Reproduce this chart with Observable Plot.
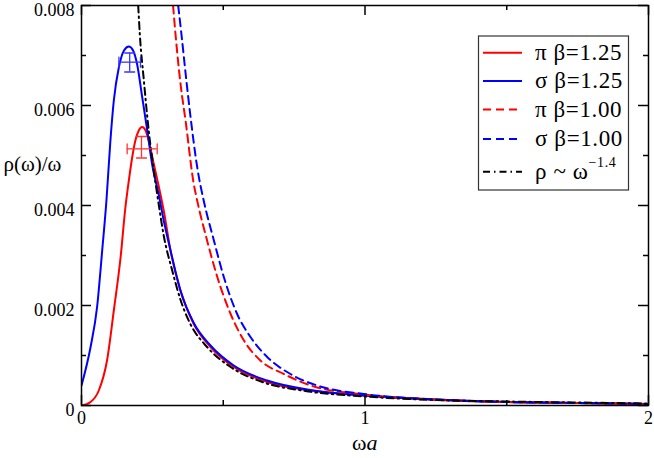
<!DOCTYPE html>
<html>
<head>
<meta charset="utf-8">
<script src="https://cdn.jsdelivr.net/npm/d3@7"></script>
<script src="https://cdn.jsdelivr.net/npm/@observablehq/plot@0.6"></script>
<style>
  html, body { margin: 0; padding: 0; background: #fff; }
  #chart { width: 654px; height: 458px; }
</style>
</head>
<body>
<div id="chart"></div>
<script>
// ---- data ----
const piB125_w = [0, 0.032, 0.061, 0.09, 0.114, 0.138, 0.155, 0.167, 0.179, 0.19, 0.202, 0.214, 0.226, 0.237, 0.255, 0.273, 0.29, 0.314, 0.349, 0.396, 0.455, 0.537, 0.655, 0.808, 1.0, 1.25, 1.5, 1.75, 2.0];
const piB125_v = [0, 0.00007, 0.0003, 0.0009, 0.0019, 0.00297, 0.00397, 0.0045, 0.00497, 0.0053, 0.0055, 0.00557, 0.0055, 0.0053, 0.00483, 0.00437, 0.0039, 0.0031, 0.0023, 0.00163, 0.00117, 0.00077, 0.00047, 0.0003, 0.0002, 0.00012, 0.00007, 0.00005, 0.00003];

const sigB125_w = [0, 0.032, 0.055, 0.073, 0.088, 0.102, 0.114, 0.132, 0.15, 0.167, 0.182, 0.196, 0.214, 0.232, 0.249, 0.273, 0.29, 0.314, 0.349, 0.396, 0.455, 0.537, 0.655, 0.808, 1.0, 1.25, 1.5, 1.75, 2.0];
const sigB125_v = [0.0004, 0.00117, 0.00197, 0.0031, 0.0041, 0.0053, 0.0061, 0.00677, 0.0071, 0.00718, 0.0071, 0.00683, 0.00617, 0.0055, 0.00483, 0.0042, 0.0037, 0.0031, 0.0023, 0.00165, 0.0012, 0.0008, 0.0005, 0.00031, 0.0002, 0.00012, 0.00007, 0.00005, 0.00003];

const piB100_w = [0.323, 0.332, 0.35, 0.367, 0.396, 0.408, 0.443, 0.479, 0.526, 0.573, 0.631, 0.714, 0.808, 0.996, 1.25, 1.5, 1.75, 2.0];
const piB100_v = [0.008, 0.0074, 0.0064, 0.0057, 0.00443, 0.0041, 0.0033, 0.00257, 0.00183, 0.0013, 0.0009, 0.00063, 0.0004, 0.00022, 0.00011, 0.00007, 0.00005, 0.00003];

const sigB100_w = [0.341, 0.353, 0.368, 0.384, 0.41, 0.431, 0.467, 0.502, 0.549, 0.596, 0.655, 0.737, 0.831, 0.996, 1.25, 1.5, 1.75, 2.0];
const sigB100_v = [0.008, 0.0074, 0.0066, 0.0058, 0.0047, 0.0041, 0.0033, 0.00257, 0.00183, 0.00137, 0.00097, 0.00063, 0.0004, 0.00023, 0.00012, 0.00007, 0.00005, 0.00003];

const power_w = [0.2, 0.206, 0.22, 0.237, 0.255, 0.273, 0.29, 0.32, 0.35, 0.384, 0.443, 0.526, 0.643, 0.79, 1.0, 1.25, 1.5, 1.75, 2.0];
const power_v = [0.008, 0.0074, 0.0065, 0.0055, 0.0047, 0.004, 0.0034, 0.0027, 0.0021, 0.00163, 0.00117, 0.00077, 0.00046, 0.00029, 0.00018, 0.00011, 0.00008, 0.00006, 0.00004];

// error-bar points: centre, x range, y range
const errSeries = ["sigma", "pi"];
const errX   = [0.170, 0.2116];
const errY   = [0.006867, 0.005133];
const errXlo = [0.132, 0.161];
const errXhi = [0.208, 0.267];
const errYlo = [0.00667, 0.00495];
const errYhi = [0.00705, 0.00538];
const errColors = ["#3535ff", "#ff3535"];

const xMajor = [0, 1, 2];
const xMinor = [0.5, 1.5];
const yMajor = [0, 0.002, 0.004, 0.006, 0.008];
const yMinor = [0.001, 0.003, 0.005, 0.007];

const legendLabels = ["π β=1.25", "σ β=1.25", "π β=1.00", "σ β=1.00", "ρ ~ ω"];
const legendColors = ["#ff0000", "#0000ff", "#ff0000", "#0000ff", "#000000"];
const legendDash   = [null, null, "8,5", "8,5", "7,4,1.5,4"];

// ---- build tables ----
const zip = (w, v) => w.map((x, i) => ({x, y: v[i]}));
const series = [
  {pts: zip(piB125_w, piB125_v),  color: "#ff0000", dash: null},
  {pts: zip(sigB125_w, sigB125_v), color: "#0000ff", dash: null},
  {pts: zip(piB100_w, piB100_v),  color: "#ff0000", dash: "8,5"},
  {pts: zip(sigB100_w, sigB100_v), color: "#0000ff", dash: "8,5"},
  {pts: zip(power_w, power_v),    color: "#000000", dash: "7,4,1.5,4"}
];
const err = errSeries.map((s, i) => ({s, x: errX[i], y: errY[i], xlo: errXlo[i], xhi: errXhi[i], ylo: errYlo[i], yhi: errYhi[i], c: errColors[i]}));

const W = 654, H = 458, mL = 81, mR = 6, mT = 5, mB = 53;
const pw = W - mL - mR, ph = H - mT - mB;
const font = "'Liberation Serif', 'Times New Roman', serif";

const lineMarks = series.map(s => Plot.line(s.pts, {
  x: "x", y: "y", stroke: s.color, strokeWidth: 2,
  strokeDasharray: s.dash, curve: "monotone-x", clip: true
}));

const cap = {stroke: d => d.c, fill: "none", shape: "spike", r: 0, length: 10, anchor: "middle", strokeWidth: 1.3};

const chart = Plot.plot({
  width: W, height: H,
  marginLeft: mL, marginRight: mR, marginTop: mT, marginBottom: mB,
  x: {domain: [0, 2], axis: null},
  y: {domain: [0, 0.008], axis: null},
  style: {fontFamily: font, background: "#fff", color: "#000"},
  marks: [
    ...lineMarks,
    // error bars
    Plot.ruleY(err, {y: "y", x1: "xlo", x2: "xhi", stroke: d => d.c, strokeWidth: 1.3}),
    Plot.ruleX(err, {x: "x", y1: "ylo", y2: "yhi", stroke: d => d.c, strokeWidth: 1.3}),
    Plot.vector(err, {x: "xlo", y: "y", rotate: 0, ...cap}),
    Plot.vector(err, {x: "xhi", y: "y", rotate: 0, ...cap}),
    Plot.vector(err, {x: "x", y: "ylo", rotate: 90, ...cap}),
    Plot.vector(err, {x: "x", y: "yhi", rotate: 90, ...cap}),
    // inward ticks on all four sides
    Plot.tickX(xMajor, {x: d => d, insetTop: ph - 10, strokeWidth: 1.5}),
    Plot.tickX(xMinor, {x: d => d, insetTop: ph - 5, strokeWidth: 1.5}),
    Plot.tickX(xMajor, {x: d => d, insetBottom: ph - 10, strokeWidth: 1.5}),
    Plot.tickX(xMinor, {x: d => d, insetBottom: ph - 5, strokeWidth: 1.5}),
    Plot.tickY(yMajor, {y: d => d, insetRight: pw - 10, strokeWidth: 1.5}),
    Plot.tickY(yMinor, {y: d => d, insetRight: pw - 5, strokeWidth: 1.5}),
    Plot.tickY(yMajor, {y: d => d, insetLeft: pw - 10, strokeWidth: 1.5}),
    Plot.tickY(yMinor, {y: d => d, insetLeft: pw - 5, strokeWidth: 1.5}),
    Plot.frame({strokeWidth: 1.5}),
    // tick labels
    Plot.axisX({ticks: xMajor, tickSize: 0, tickPadding: 6, fontSize: 18, label: null, tickFormat: d => String(d)}),
    Plot.axisY({ticks: yMajor, tickSize: 0, tickPadding: 7, fontSize: 18, label: null, dy: 4.5,
                tickFormat: d => d === 0 ? "0" : d3.format(".3f")(d)}),
    // axis titles
    Plot.text(["ω"], {text: d => d, frameAnchor: "bottom", dy: 44, dx: 1.5, textAnchor: "end", fontSize: 22}),
    Plot.text(["a"], {text: d => d, frameAnchor: "bottom", dy: 44, dx: 1.5, textAnchor: "start", fontSize: 22, fontStyle: "italic"}),
    Plot.text(["ρ(ω)/ω"], {text: d => d, frameAnchor: "left", dx: -78, dy: -41, textAnchor: "start", fontSize: 21})
  ]
});

// ---- legend box drawn into the same SVG ----
const svg = d3.select(chart);
const lg = svg.append("g").attr("font-family", font).attr("text-anchor", "start");
lg.append("rect").attr("x", 478.5).attr("y", 36).attr("width", 150).attr("height", 154)
  .attr("fill", "#fff").attr("stroke", "#333").attr("stroke-width", 1.2);
const rowY = [52.7, 81, 109.5, 139, 171.7];
legendLabels.forEach((lab, i) => {
  lg.append("line").attr("x1", 483).attr("x2", 522).attr("y1", rowY[i]).attr("y2", rowY[i])
    .attr("stroke", legendColors[i]).attr("stroke-width", 2)
    .attr("stroke-dasharray", legendDash[i]);
  const t = lg.append("text").attr("x", 535).attr("y", rowY[i] + 7)
    .attr("font-size", 23).attr("letter-spacing", 0.6).attr("fill", "#000").attr("text-anchor", "start").text(lab);
  if (i === 4) {
    t.append("tspan").attr("font-size", 14).attr("dy", -12).text("−1.4");
  }
});

document.getElementById("chart").appendChild(chart);
</script>
</body>
</html>
